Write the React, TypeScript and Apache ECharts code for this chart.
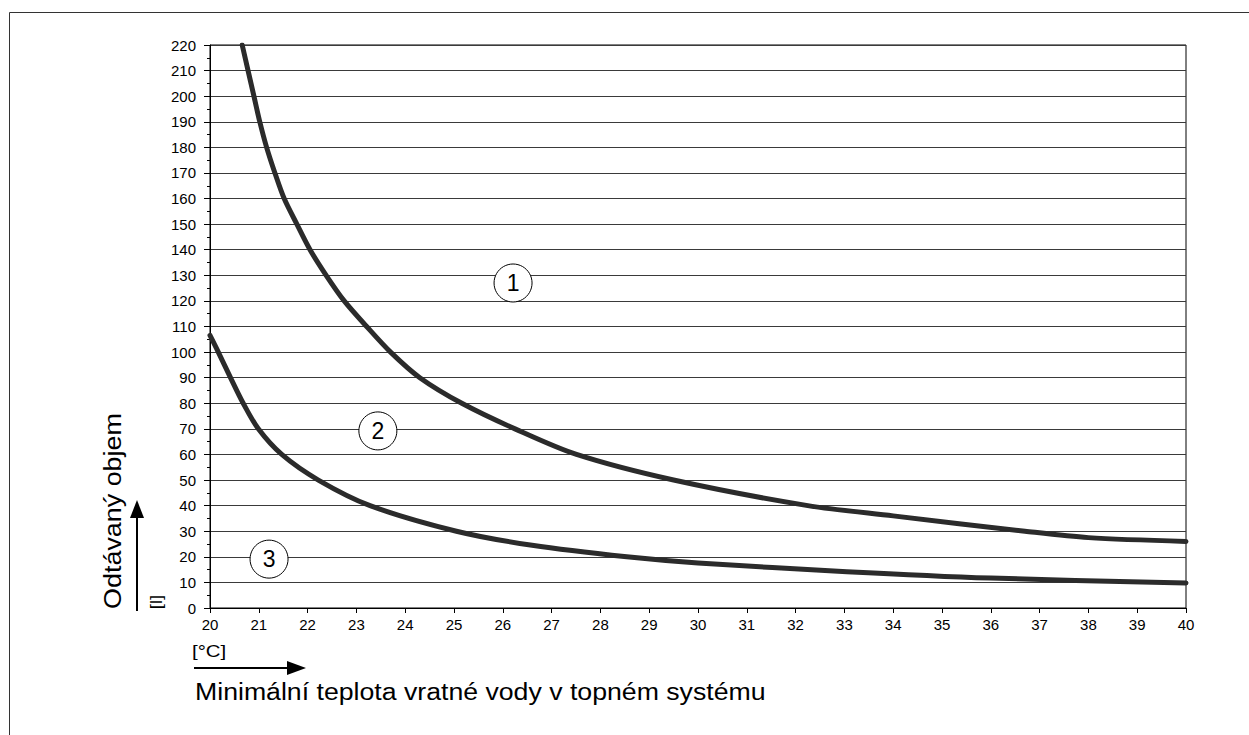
import React, { useEffect, useRef } from "react";
import * as echarts from "echarts";

// Curve 1 (upper): [temperature °C, volume l]
const curve1: [number, number][] = [
  [20.66, 220], [20.78, 210], [20.9, 200], [21.02, 190], [21.16, 180], [21.33, 170],
  [21.52, 160], [21.78, 150], [22.05, 140], [22.38, 130], [22.75, 120], [23.21, 110],
  [23.7, 100], [24.3, 90], [25.16, 80], [26.25, 70], [27.51, 60], [29.5, 50],
  [32.25, 40], [34, 36], [36.7, 30], [38, 27.5], [40, 26],
];
// Curve 2 (lower)
const curve2: [number, number][] = [
  [20, 106.5], [20.17, 100], [20.42, 90], [20.68, 80], [20.99, 70], [21.47, 60],
  [22.22, 50], [23.28, 40], [25.05, 30], [26.6, 24.5], [28.54, 20], [30, 17.6],
  [33.05, 14.2], [36, 11.7], [40, 9.8],
];
// Circled markers
const markers: [number, number, string][] = [
  [26.21, 127, "1"],
  [23.44, 69.2, "2"],
  [21.21, 19.1, "3"],
];

const yAxisName = "Odtávaný objem";
const yUnit = "[l]";
const xAxisName = "Minimální teplota vratné vody v topném systému";
const xUnit = "[°C]";

const FONT = "'Liberation Sans', Arial, sans-serif";

export default function App() {
  const ref = useRef<HTMLDivElement>(null);
  useEffect(() => {
    if (!ref.current) return;
    const chart = echarts.init(ref.current, undefined, { renderer: "svg" });
    const lineStyle = { color: "#2b2b2b", width: 5, cap: "round" as const, join: "round" as const };
    chart.setOption({
      animation: false,
      backgroundColor: "#fff",
      textStyle: { fontFamily: FONT },
      grid: {
        left: 210, top: 45, right: 63, bottom: 127,
        show: true, borderColor: "#000", borderWidth: 1, backgroundColor: "transparent",
      },
      xAxis: {
        type: "value", min: 20, max: 40, interval: 1,
        axisLine: { show: true, lineStyle: { color: "#000", width: 1 } },
        axisTick: { show: true, length: 5, lineStyle: { color: "#000" } },
        axisLabel: { color: "#000", fontSize: 15, margin: 9, fontFamily: FONT },
        splitLine: { show: false },
      },
      yAxis: {
        type: "value", min: 0, max: 220, interval: 10,
        axisLine: { show: true, lineStyle: { color: "#000", width: 1 } },
        axisTick: { show: true, length: 6, lineStyle: { color: "#000" } },
        minorTick: { show: true, splitNumber: 2, length: 3, lineStyle: { color: "#000" } },
        axisLabel: { color: "#000", fontSize: 15, margin: 14, fontFamily: FONT },
        splitLine: { show: true, lineStyle: { color: "#3a3a3a", width: 1 } },
      },
      series: [
        { type: "line", data: curve1, smooth: 0.3, showSymbol: false, symbol: "none", lineStyle, clip: true, z: 3 },
        { type: "line", data: curve2, smooth: 0.3, showSymbol: false, symbol: "none", lineStyle, clip: true, z: 3 },
        {
          type: "scatter", data: markers, symbol: "circle", symbolSize: 38, z: 4,
          itemStyle: { color: "#fff", borderColor: "#000", borderWidth: 1, opacity: 1 },
          label: {
            show: true, position: "inside", color: "#000", fontSize: 23, fontFamily: FONT,
            formatter: (p: any) => p.value[2],
          },
        },
      ],
      graphic: [
        { type: "rect", shape: { x: 9.5, y: 12.5, width: 1400, height: 900 }, style: { fill: "none", stroke: "#333", lineWidth: 1 }, silent: true },
        { type: "text", x: 113, y: 511, rotation: Math.PI / 2, scaleX: 1.17, style: { text: yAxisName, fontSize: 23, fontFamily: FONT, fill: "#000", align: "center", verticalAlign: "middle" } },
        { type: "text", x: 156, y: 602, rotation: Math.PI / 2, scaleX: 1.15, style: { text: yUnit, fontSize: 16, fontFamily: FONT, fill: "#000", align: "center", verticalAlign: "middle" } },
        { type: "line", shape: { x1: 137, y1: 611, x2: 137, y2: 512 }, style: { stroke: "#000", lineWidth: 2 } },
        { type: "polygon", shape: { points: [[130, 518], [144, 518], [137, 500]] }, style: { fill: "#000" } },
        { type: "text", x: 192, y: 651, scaleX: 1.2, style: { text: xUnit, fontSize: 17, fontFamily: FONT, fill: "#000", align: "left", verticalAlign: "middle" } },
        { type: "line", shape: { x1: 194, y1: 668, x2: 292, y2: 668 }, style: { stroke: "#000", lineWidth: 2 } },
        { type: "polygon", shape: { points: [[287, 661], [287, 675], [306, 668]] }, style: { fill: "#000" } },
        { type: "text", x: 195, y: 692, scaleX: 1.16, style: { text: xAxisName, fontSize: 23, fontFamily: FONT, fill: "#000", align: "left", verticalAlign: "middle" } },
      ],
    });
    return () => chart.dispose();
  }, []);
  return <div ref={ref} style={{ position: "absolute", left: 0, top: 0, width: 1249, height: 735 }} />;
}
